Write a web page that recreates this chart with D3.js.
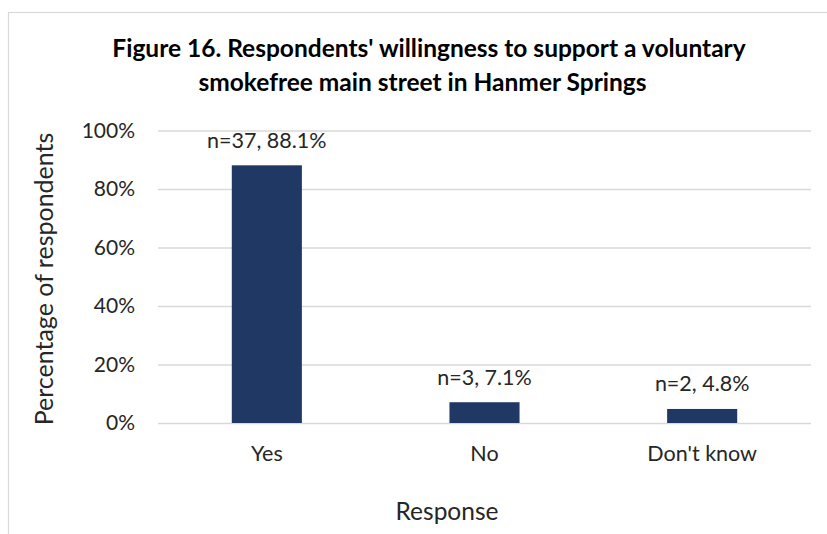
<!DOCTYPE html>
<html>
<head>
<meta charset="utf-8">
<script src="https://cdn.jsdelivr.net/npm/d3@7/dist/d3.min.js"></script>
<style>
  html, body { margin: 0; padding: 0; background: #fff; }
  svg { display: block; }
  text { font-family: Lato, "Open Sans", sans-serif; }
</style>
</head>
<body>
<svg id="chart" width="827" height="534"></svg>
<script>
// Survey responses
const categories = ["Yes", "No", "Don't know"];
const counts = [37, 3, 2];
const percents = [88.1, 7.1, 4.8];
const yTicks = [0, 20, 40, 60, 80, 100];
const titleLines = [
  "Figure 16. Respondents' willingness to support a voluntary",
  "smokefree main street in Hanmer Springs"
];

const svg = d3.select("#chart");

const plot = { left: 158, right: 811, top: 130.5, bottom: 423 };
const barColor = "#203864";
const gridColor = "#d9d9d9";
const textColor = "#262626";

// chart area border
svg.append("rect")
  .attr("x", 8.5).attr("y", 12.5)
  .attr("width", 900).attr("height", 600)
  .attr("fill", "none")
  .attr("stroke", gridColor)
  .attr("stroke-width", 1.2);

const x = d3.scaleBand()
  .domain(categories)
  .range([plot.left, plot.right])
  .padding(0);

const y = d3.scaleLinear()
  .domain([0, 100])
  .range([plot.bottom, plot.top]);

const barWidth = x.bandwidth() * 0.322;

// gridlines + y tick labels
const yAxis = d3.axisLeft(y)
  .tickValues(yTicks)
  .tickSize(-(plot.right - plot.left))
  .tickPadding(23)
  .tickFormat(d => d + "%");

const gy = svg.append("g")
  .attr("transform", `translate(${plot.left},0)`)
  .call(yAxis);
gy.select(".domain").remove();
gy.selectAll(".tick line")
  .attr("stroke", gridColor)
  .attr("stroke-width", 1.5);
gy.selectAll(".tick text")
  .attr("fill", textColor)
  .style("font-size", "21px");

// category axis labels
const xAxis = d3.axisBottom(x).tickSize(0).tickPadding(0);
const gx = svg.append("g")
  .attr("transform", `translate(0,${plot.bottom})`)
  .call(xAxis);
gx.select(".domain").remove();
gx.selectAll(".tick text")
  .attr("fill", textColor)
  .attr("dy", null)
  .attr("y", 38)
  .style("font-size", "21.5px");

// bars
svg.append("g").selectAll("rect")
  .data(categories)
  .join("rect")
  .attr("x", d => x(d) + (x.bandwidth() - barWidth) / 2)
  .attr("width", barWidth)
  .attr("y", (d, i) => y(percents[i]))
  .attr("height", (d, i) => y(0) - y(percents[i]))
  .attr("fill", barColor);

// value labels
svg.append("g").selectAll("text")
  .data(categories)
  .join("text")
  .attr("x", d => x(d) + x.bandwidth() / 2)
  .attr("y", (d, i) => y(percents[i]) - 17.5)
  .attr("text-anchor", "middle")
  .attr("fill", textColor)
  .style("font-size", "21.5px")
  .text((d, i) => `n=${counts[i]}, ${percents[i]}%`);

// title
const titleX = [429, 422.5];
const titleY = [57.3, 90.7];
svg.append("g").selectAll("text")
  .data(titleLines)
  .join("text")
  .attr("x", (d, i) => titleX[i])
  .attr("y", (d, i) => titleY[i])
  .attr("text-anchor", "middle")
  .attr("fill", "#000")
  .style("font-size", "24.5px")
  .style("font-weight", "bold")
  .text(d => d);

// axis titles
svg.append("text")
  .attr("x", 447)
  .attr("y", 520)
  .attr("text-anchor", "middle")
  .attr("fill", textColor)
  .style("font-size", "24.5px")
  .text("Response");

svg.append("text")
  .attr("transform", "translate(53,279) rotate(-90)")
  .attr("text-anchor", "middle")
  .attr("fill", textColor)
  .style("font-size", "25px")
  .text("Percentage of respondents");
</script>
</body>
</html>
